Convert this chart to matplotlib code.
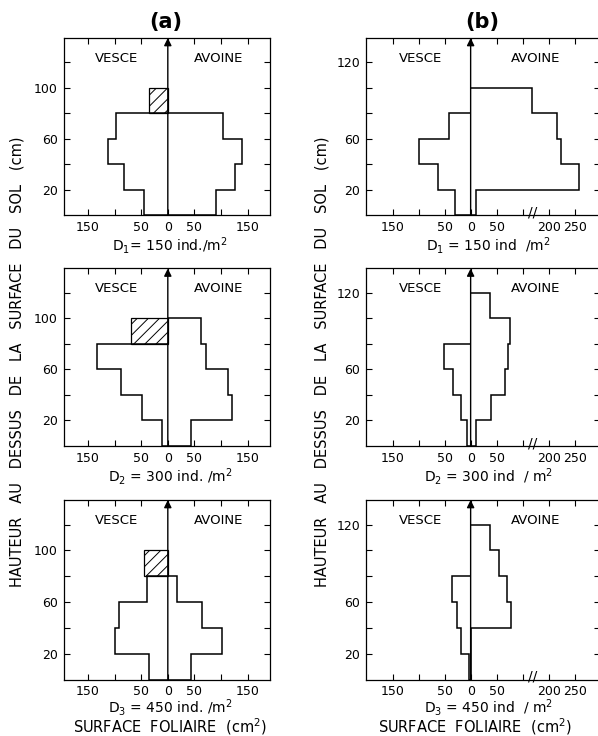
import matplotlib.pyplot as plt
import numpy as np

plt.rcParams["font.family"] = ["DejaVu Sans"]
plt.rcParams["hatch.linewidth"] = 0.7

# height classes (cm)
edges = [0, 20, 40, 60, 80, 100, 120]

# (a) leaf area per 20 cm layer, bottom -> top (cm2)
vesce_a_d1 = [44, 83, 112, 97]
vesce_a_d2 = [10, 49, 88, 133]
vesce_a_d3 = [36, 100, 91, 39]
vesce_a_top = [36, 69, 44]          # hatched 80-100 cm layer
avoine_a_d1 = [90, 126, 140, 103]
avoine_a_d2 = [43, 121, 113, 72, 63]
avoine_a_d3 = [43, 102, 65, 17]

# (b)
vesce_b_d1 = [30, 62, 100, 42]
vesce_b_d2 = [7, 19, 34, 51]
vesce_b_d3 = [4, 18, 26, 36]
avoine_b_d1 = [10, 259, 224, 215, 167]
avoine_b_d2 = [11, 40, 66, 72, 75, 37]
avoine_b_d3 = [0, 0, 77, 70, 55, 37]

labels_a = ["D$_1$= 150 ind./m$^2$", "D$_2$ = 300 ind. /m$^2$", "D$_3$ = 450 ind. /m$^2$"]
labels_b = ["D$_1$ = 150 ind  /m$^2$", "D$_2$ = 300 ind  / m$^2$", "D$_3$ = 450 ind  / m$^2$"]

ylabel = "HAUTEUR   AU   DESSUS   DE   LA   SURFACE   DU   SOL   (cm)"
xlabel = "SURFACE  FOLIAIRE  (cm$^2$)"

W, H = 598, 736
YMAX = 139


def broken(v):
    # x axis of (b) is broken between 100 and 200
    v = np.asarray(v, dtype=float)
    return np.where(v >= 150, v - 50, v)


def add_ax(fig, left, top, right, bottom):
    return fig.add_axes([left / W, 1 - bottom / H, (right - left) / W, (bottom - top) / H])


def frame(ax, xlim, xticks, xticklabels, yticklabels):
    ax.set_xlim(*xlim)
    ax.set_ylim(0, YMAX)
    ax.set_xticks(xticks)
    ax.set_xticklabels(xticklabels)
    ax.set_yticks([20, 40, 60, 80, 100, 120])
    ax.set_yticklabels(yticklabels)
    ax.tick_params(direction="in", top=True, right=True, length=4, width=0.8,
                   labelsize=9, pad=4)
    for s in ax.spines.values():
        s.set_linewidth(0.9)
    ax.annotate("", xy=(0, YMAX), xytext=(0, 0),
                arrowprops=dict(arrowstyle="-|>", color="k", lw=1.0,
                                mutation_scale=11, shrinkA=0, shrinkB=0))


def profile(ax, values, **kw):
    n = len(values)
    ax.stairs(values, edges[:n + 1], orientation="horizontal", baseline=0,
              color="k", lw=1.1, **kw)


fig = plt.figure(figsize=(W / 100, H / 100), dpi=100)

rows = [(38, 215), (268.5, 446), (500, 679.5)]
label_y = [246, 476.5, 707.5]

vesce_a = [vesce_a_d1, vesce_a_d2, vesce_a_d3]
avoine_a = [avoine_a_d1, avoine_a_d2, avoine_a_d3]
vesce_b = [vesce_b_d1, vesce_b_d2, vesce_b_d3]
avoine_b = [avoine_b_d1, avoine_b_d2, avoine_b_d3]

for i, (top, bottom) in enumerate(rows):
    # column (a)
    ax = add_ax(fig, 63.5, top, 270, bottom)
    frame(ax, (-196, 192), [-150, -100, -50, 0, 50, 100, 150],
          ["150", "", "50", "0", "50", "", "150"],
          ["20", "", "60", "", "100", ""])
    profile(ax, -np.array(vesce_a[i]))
    profile(ax, np.array(avoine_a[i]))
    ax.barh(90, -vesce_a_top[i], height=20, left=0, fill=False, hatch="///",
            edgecolor="k", lw=0.9)
    ax.text(-97, 123, "VESCE", ha="center", va="center", fontsize=9.5)
    ax.text(95, 123, "AVOINE", ha="center", va="center", fontsize=9.5)
    fig.text(170 / W, 1 - label_y[i] / H, labels_a[i], ha="center", va="center",
             fontsize=10)

    # column (b)
    ax = add_ax(fig, 366, top, 600, bottom)
    frame(ax, (-201, 248.5), [-150, -100, -50, 0, 50, 100, 150, 200],
          ["150", "", "50", "0", "50", "", "200", "250"],
          ["20", "", "60", "", "", "120"])
    profile(ax, -np.array(vesce_b[i]))
    profile(ax, broken(avoine_b[i]))
    ax.text(119, 2, "//", ha="center", va="center", fontsize=10, clip_on=False)
    ax.text(-97, 123, "VESCE", ha="center", va="center", fontsize=9.5)
    ax.text(124, 123, "AVOINE", ha="center", va="center", fontsize=9.5)
    fig.text(488 / W, 1 - label_y[i] / H, labels_b[i], ha="center", va="center",
             fontsize=10)

fig.text(166 / W, 1 - 22 / H, "(a)", ha="center", va="center", fontsize=15,
         fontweight="bold")
fig.text(482 / W, 1 - 22 / H, "(b)", ha="center", va="center", fontsize=15,
         fontweight="bold")

for x in (17, 322):
    fig.text(x / W, 1 - 362 / H, ylabel, rotation=90, ha="center", va="center",
             fontsize=10.5)

fig.text(170 / W, 1 - 727 / H, xlabel, ha="center", va="center", fontsize=10.5)
fig.text(475 / W, 1 - 727 / H, xlabel, ha="center", va="center", fontsize=10.5)

fig.savefig("out.png", dpi=100)
